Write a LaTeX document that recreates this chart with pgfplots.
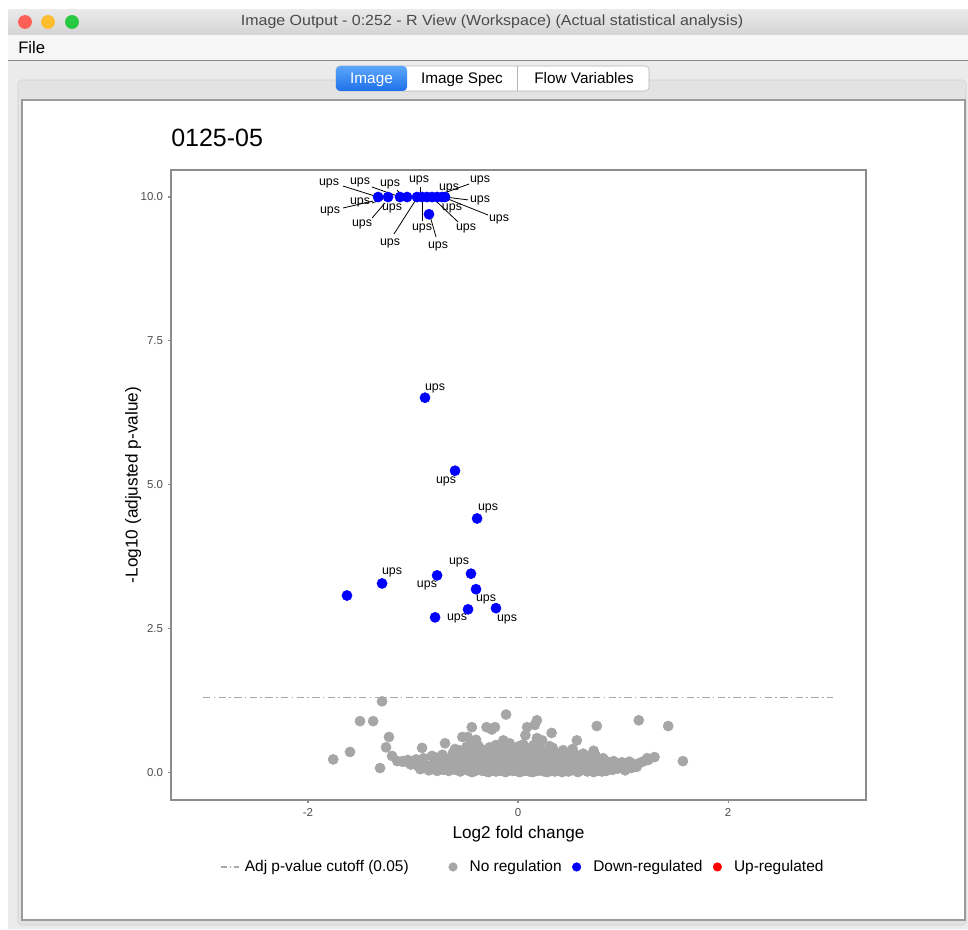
\documentclass[border=0pt]{standalone}
\usepackage{pgfplots}
\pgfplotsset{compat=1.18}
\usepackage{fontspec}
\setmainfont{Liberation Sans}
\definecolor{ptgray}{HTML}{A6A6A6}
\definecolor{ptblue}{HTML}{0000FF}
\definecolor{ptred}{HTML}{FF0000}
\definecolor{axisgray}{HTML}{8C8C8C}
\definecolor{ticktext}{HTML}{4D4D4D}
\definecolor{cutgray}{HTML}{A8A8A8}
\definecolor{tbtop}{HTML}{E9E9E9}
\definecolor{tbbot}{HTML}{D4D4D4}
\definecolor{menubg}{HTML}{F6F6F6}
\definecolor{menuline}{HTML}{8A8A8A}
\definecolor{panelbg}{HTML}{EBEBEB}
\definecolor{innerbg}{HTML}{E3E3E3}
\definecolor{innerborder}{HTML}{D0D0D0}
\definecolor{areaborder}{HTML}{9B9B9B}
\definecolor{titletext}{HTML}{4A4A4A}
\definecolor{tabblueA}{HTML}{5AA6FA}
\definecolor{tabblueB}{HTML}{1F70EA}
\definecolor{tabborder}{HTML}{B5B5B5}
\definecolor{tlred}{HTML}{FE5F57}
\definecolor{tlyellow}{HTML}{FEBC2E}
\definecolor{tlgreen}{HTML}{28C840}
\tikzset{
  upsl/.style={font=\fontsize{9.3}{10}\selectfont, inner sep=0pt},
  leader/.style={black, line width=0.6pt},
}
\pgfplotsset{
  linelegend/.style={legend image code/.code={\draw[##1] (0pt,0pt) -- (13.5pt,0pt); \path[draw=none,fill=none] (0pt,0pt) rectangle (15.75pt,0pt);}},
  dotlegend/.style={legend image code/.code={\draw[##1] plot coordinates {(0pt,0pt)}; \path[draw=none,fill=none] (-3.2pt,0pt) rectangle (10.5pt,0pt);}},
}
\pgfplotstableread{
x y
-1.295 1.23
-1.505 0.885
-1.38 0.885
-1.229 0.61
-1.257 0.43
-1.20 0.28
-1.60 0.35
-1.76 0.22
-1.314 0.07
-0.914 0.42
-0.695 0.50
-0.43 0.50
-0.44 0.78
-0.30 0.78
-0.22 0.78
-0.25 0.74
-0.114 1.0
-0.53 0.61
-0.48 0.61
-0.14 0.55
-1.10 0.19
0.18 0.90
0.086 0.78
0.16 0.82
0.07 0.64
0.18 0.59
0.23 0.55
0.32 0.68
0.75 0.80
1.15 0.90
1.43 0.80
0.56 0.55
0.72 0.37
1.57 0.19
1.30 0.26
1.23 0.24
-0.40 0.56
-0.15 0.42
-0.60 0.40
0.05 0.48
0.30 0.45
-0.08 0.50
-1.15 0.19
-1.10 0.18
-1.05 0.17
-1.02 0.13
-0.98 0.16
-0.95 0.10
-0.93 0.05
-0.90 0.14
-0.88 0.08
-0.85 0.03
-0.83 0.12
-0.80 0.06
-0.78 0.25
-0.77 0.02
-0.75 0.15
-0.73 0.09
-0.71 0.04
-0.70 0.19
-0.68 0.11
-0.66 0.02
-0.65 0.07
-0.63 0.27
-0.62 0.14
-0.60 0.04
-0.58 0.09
-0.57 0.20
-0.55 0.01
-0.54 0.13
-0.52 0.06
-0.51 0.33
-0.50 0.17
-0.48 0.03
-0.47 0.10
-0.46 0.24
-0.45 0.05
-0.43 0.14
-0.42 0.01
-0.41 0.30
-0.40 0.08
-0.38 0.18
-0.37 0.04
-0.36 0.12
-0.35 0.40
-0.34 0.02
-0.33 0.22
-0.32 0.07
-0.31 0.15
-0.30 0.01
-0.29 0.10
-0.28 0.27
-0.27 0.05
-0.26 0.19
-0.25 0.03
-0.24 0.12
-0.23 0.34
-0.22 0.08
-0.21 0.01
-0.20 0.16
-0.19 0.05
-0.18 0.24
-0.17 0.10
-0.16 0.02
-0.15 0.13
-0.14 0.30
-0.13 0.06
-0.12 0.18
-0.11 0.01
-0.10 0.09
-0.09 0.22
-0.08 0.04
-0.07 0.14
-0.06 0.36
-0.05 0.02
-0.04 0.11
-0.03 0.26
-0.02 0.06
-0.01 0.17
0.00 0.01
0.01 0.09
0.02 0.20
0.03 0.04
0.04 0.13
0.05 0.31
0.06 0.02
0.07 0.08
0.08 0.17
0.09 0.05
0.10 0.25
0.11 0.01
0.12 0.11
0.13 0.19
0.14 0.04
0.15 0.14
0.16 0.33
0.17 0.07
0.18 0.02
0.19 0.22
0.20 0.10
0.21 0.03
0.22 0.16
0.23 0.06
0.24 0.28
0.25 0.01
0.26 0.12
0.27 0.05
0.28 0.20
0.29 0.09
0.30 0.02
0.31 0.15
0.32 0.25
0.33 0.05
0.34 0.11
0.35 0.01
0.36 0.18
0.37 0.07
0.38 0.30
0.39 0.03
0.40 0.13
0.41 0.08
0.42 0.20
0.43 0.02
0.44 0.10
0.45 0.26
0.46 0.05
0.47 0.15
0.48 0.01
0.49 0.09
0.50 0.19
0.52 0.04
0.53 0.12
0.55 0.02
0.56 0.17
0.58 0.07
0.59 0.23
0.60 0.03
0.62 0.11
0.63 0.05
0.65 0.15
0.66 0.01
0.68 0.09
0.70 0.21
0.71 0.04
0.73 0.13
0.75 0.02
0.76 0.08
0.78 0.17
0.80 0.05
0.82 0.11
0.84 0.02
0.86 0.07
0.88 0.14
0.90 0.04
0.92 0.10
0.95 0.06
0.97 0.13
1.00 0.08
1.02 0.03
1.05 0.11
1.08 0.07
1.10 0.14
1.13 0.09
1.16 0.16
1.20 0.19
1.24 0.21
-0.55 0.08
-0.44 0.00
-0.39 0.06
-0.28 0.00
-0.20 0.04
-0.12 0.00
-0.05 0.07
0.02 0.00
0.08 0.03
0.14 0.00
0.20 0.06
0.28 0.00
0.35 0.06
0.42 0.00
0.50 0.05
0.57 0.00
0.64 0.08
0.72 0.00
0.80 0.01
-0.65 0.12
-0.35 0.16
0.05 0.14
0.25 0.21
-0.15 0.20
0.40 0.17
-0.62 0.33
-0.56 0.38
-0.49 0.44
-0.44 0.36
-0.38 0.46
-0.33 0.38
-0.27 0.43
-0.21 0.47
-0.17 0.37
-0.11 0.44
-0.04 0.40
0.01 0.45
0.03 0.36
0.09 0.42
0.12 0.35
0.15 0.47
0.21 0.40
0.27 0.36
0.33 0.42
0.36 0.34
0.43 0.38
0.48 0.33
0.52 0.40
0.55 0.30
0.62 0.32
0.67 0.27
0.74 0.28
0.81 0.24
-0.72 0.30
-0.82 0.28
-0.90 0.24
-0.97 0.22
-1.05 0.21
-0.60 0.22
-0.53 0.26
-0.44 0.20
-0.37 0.28
-0.31 0.23
-0.24 0.21
-0.16 0.27
-0.10 0.26
-0.02 0.23
0.04 0.25
0.11 0.28
0.17 0.24
0.23 0.26
0.30 0.30
0.37 0.24
0.44 0.22
0.51 0.25
0.57 0.21
0.64 0.20
0.69 0.16
0.77 0.22
0.85 0.18
0.91 0.19
0.99 0.17
1.06 0.18
}\nosig
\pgfplotstableread{
x y
-1.333 10.0
-1.238 10.0
-1.124 10.0
-1.057 10.0
-0.962 10.0
-0.914 10.0
-0.867 10.0
-0.819 10.0
-0.771 10.0
-0.724 10.0
-0.695 10.0
-0.848 9.70
-0.886 6.51
-0.600 5.24
-0.390 4.41
-1.629 3.07
-1.295 3.28
-0.771 3.42
-0.448 3.45
-0.400 3.18
-0.476 2.83
-0.210 2.85
-0.790 2.69
}\down
\begin{document}
\begin{tikzpicture}
\useasboundingbox (0,0) rectangle (726pt,696.75pt);
\begin{scope}[x=0.75pt,y=-0.75pt,shift={(0pt,696.75pt)}]
  \fill[white] (0,0) rectangle (968,929);
  \fill[panelbg] (8,35) rectangle (968,929);
  \shade[top color=tbtop, bottom color=tbbot] (8,10) rectangle (968,35);
  \fill[menubg] (8,35) rectangle (968,60);
  \draw[menuline, line width=0.9pt] (8,60.5) -- (968,60.5);
  \fill[tlred] (25,22) circle (5.2pt);
  \fill[tlyellow] (48,22) circle (5.2pt);
  \fill[tlgreen] (72,22) circle (5.2pt);
  \node[font=\fontsize{11}{13}\selectfont, text=titletext, xscale=1.09] at (492,22) {Image Output - 0:252 - R View (Workspace) (Actual statistical analysis)};
  \node[anchor=west, inner sep=0pt, font=\fontsize{12.5}{14}\selectfont] at (18,47.5) {File};
  \draw[innerborder, fill=innerbg, rounded corners=3pt] (18,80) rectangle (966,925);
  % tabs
  \draw[tabborder, fill=white, rounded corners=3pt] (336,66) rectangle (649,91);
  \shade[top color=tabblueA, bottom color=tabblueB, rounded corners=3pt] (336,66) rectangle (407,91);
  \draw[tabborder] (517,66) -- (517,91);
  \node[anchor=base, text=white, font=\fontsize{11.5}{13}\selectfont] at (371.5,83.5) {Image};
  \node[anchor=base, font=\fontsize{11.5}{13}\selectfont] at (462,83.5) {Image Spec};
  \node[anchor=base, font=\fontsize{11.5}{13}\selectfont] at (584,83.5) {Flow Variables};
  \draw[areaborder, fill=white, line width=1.2pt] (22,100) rectangle (965,920);
\end{scope}
\begin{axis}[
  at={(128.25pt,96.75pt)}, anchor=south west,
  scale only axis, width=521.25pt, height=472.5pt,
  xmin=-3.305, xmax=3.314, ymin=-0.486, ymax=10.47,
  axis line style={axisgray, line width=0.8pt},
  xtick={-2,0,2}, xticklabels={-2,0,2},
  ytick={0,2.5,5,7.5,10}, yticklabels={0.0,2.5,5.0,7.5,10.0},
  tick align=outside, xtick pos=left, ytick pos=left,
  major tick length=2.5pt, tick style={axisgray, line width=0.8pt},
  ticklabel style={font=\fontsize{8.6}{10}\selectfont, text=ticktext},
  xlabel={Log2 fold change}, ylabel={-Log10 (adjusted p-value)},
  label style={font=\fontsize{12.9}{15}\selectfont},
  xlabel style={at={(axis description cs:0.5,-0.0535)}, anchor=center},
  ylabel style={at={(axis description cs:-0.0545,0.5)}, anchor=center},
  title={0125-05},
  title style={at={(axis description cs:0,1)}, anchor=base west, yshift=11.25pt, inner sep=0pt, font=\fontsize{18.75}{20}\selectfont},
  clip=false,
  legend columns=4,
  legend cell align=left,
  legend style={draw=none, fill=none, at={(axis description cs:0.507,-0.1063)}, anchor=center,
    font=\fontsize{11.6}{13}\selectfont,
    /tikz/every even column/.append style={column sep=6pt}},
]
\addlegendimage{linelegend, cutgray, line width=0.9pt, dash pattern=on 4.5pt off 2pt on 1.2pt off 2pt}
\addlegendentry{Adj p-value cutoff (0.05)\rule{22pt}{0pt}}
\addlegendimage{dotlegend, only marks, mark=*, mark size=3.2pt, ptgray}
\addlegendentry{No regulation}
\addlegendimage{dotlegend, only marks, mark=*, mark size=3.2pt, ptblue}
\addlegendentry{Down-regulated}
\addlegendimage{dotlegend, only marks, mark=*, mark size=3.2pt, ptred}
\addlegendentry{Up-regulated}

\addplot[forget plot, cutgray, line width=0.9pt, dash pattern=on 5.5pt off 2.5pt on 1.2pt off 2.5pt] coordinates {(-3,1.301) (3,1.301)};
\addplot[forget plot, only marks, mark=*, mark size=3.8pt, ptgray] table {\nosig};
\addplot[forget plot, only marks, mark=*, mark size=3.8pt, ptblue] table {\down};

% leader lines (top cluster)
\draw[leader] (axis cs:-1.667,10.191) -- (axis cs:-1.333,10.0);
\draw[leader] (axis cs:-1.390,10.174) -- (axis cs:-1.124,10.0);
\draw[leader] (axis cs:-1.152,10.12) -- (axis cs:-1.095,10.0);
\draw[leader] (axis cs:-0.933,10.174) -- (axis cs:-0.933,10.0);
\draw[leader] (axis cs:-0.714,10.07) -- (axis cs:-0.838,10.0);
\draw[leader] (axis cs:-0.467,10.226) -- (axis cs:-0.810,10.0);
\draw[leader] (axis cs:-0.476,9.95) -- (axis cs:-0.695,10.0);
\draw[leader] (axis cs:-0.286,9.687) -- (axis cs:-0.714,10.0);
\draw[leader] (axis cs:-0.571,9.566) -- (axis cs:-0.810,9.98);
\draw[leader] (axis cs:-0.781,9.306) -- (axis cs:-0.838,9.67);
\draw[leader] (axis cs:-0.914,9.583) -- (axis cs:-0.914,9.95);
\draw[leader] (axis cs:-1.181,9.358) -- (axis cs:-0.981,9.93);
\draw[leader] (axis cs:-1.390,9.635) -- (axis cs:-1.267,9.896);
\draw[leader] (axis cs:-1.390,9.896) -- (axis cs:-1.286,9.965);
\draw[leader] (axis cs:-1.667,9.809) -- (axis cs:-1.381,9.93);
% labels (top cluster)
\node[upsl] at (axis cs:-1.800,10.243) {ups};
\node[upsl] at (axis cs:-1.505,10.26) {ups};
\node[upsl] at (axis cs:-1.219,10.226) {ups};
\node[upsl] at (axis cs:-0.943,10.295) {ups};
\node[upsl] at (axis cs:-0.657,10.156) {ups};
\node[upsl] at (axis cs:-0.362,10.295) {ups};
\node[upsl] at (axis cs:-0.362,9.948) {ups};
\node[upsl] at (axis cs:-0.181,9.618) {ups};
\node[upsl] at (axis cs:-0.495,9.462) {ups};
\node[upsl] at (axis cs:-0.629,9.809) {ups};
\node[upsl] at (axis cs:-0.762,9.149) {ups};
\node[upsl] at (axis cs:-0.914,9.462) {ups};
\node[upsl] at (axis cs:-1.219,9.201) {ups};
\node[upsl] at (axis cs:-1.200,9.809) {ups};
\node[upsl] at (axis cs:-1.486,9.531) {ups};
\node[upsl] at (axis cs:-1.505,9.913) {ups};
\node[upsl] at (axis cs:-1.790,9.757) {ups};
% labels (middle)
\node[upsl] at (axis cs:-0.790,6.667) {ups};
\node[upsl] at (axis cs:-0.686,5.052) {ups};
\node[upsl] at (axis cs:-0.286,4.583) {ups};
\node[upsl] at (axis cs:-1.200,3.472) {ups};
\node[upsl] at (axis cs:-0.867,3.247) {ups};
\node[upsl] at (axis cs:-0.562,3.646) {ups};
\node[upsl] at (axis cs:-0.305,3.003) {ups};
\node[upsl] at (axis cs:-0.581,2.674) {ups};
\node[upsl] at (axis cs:-0.105,2.656) {ups};
\end{axis}
\end{tikzpicture}
\end{document}
